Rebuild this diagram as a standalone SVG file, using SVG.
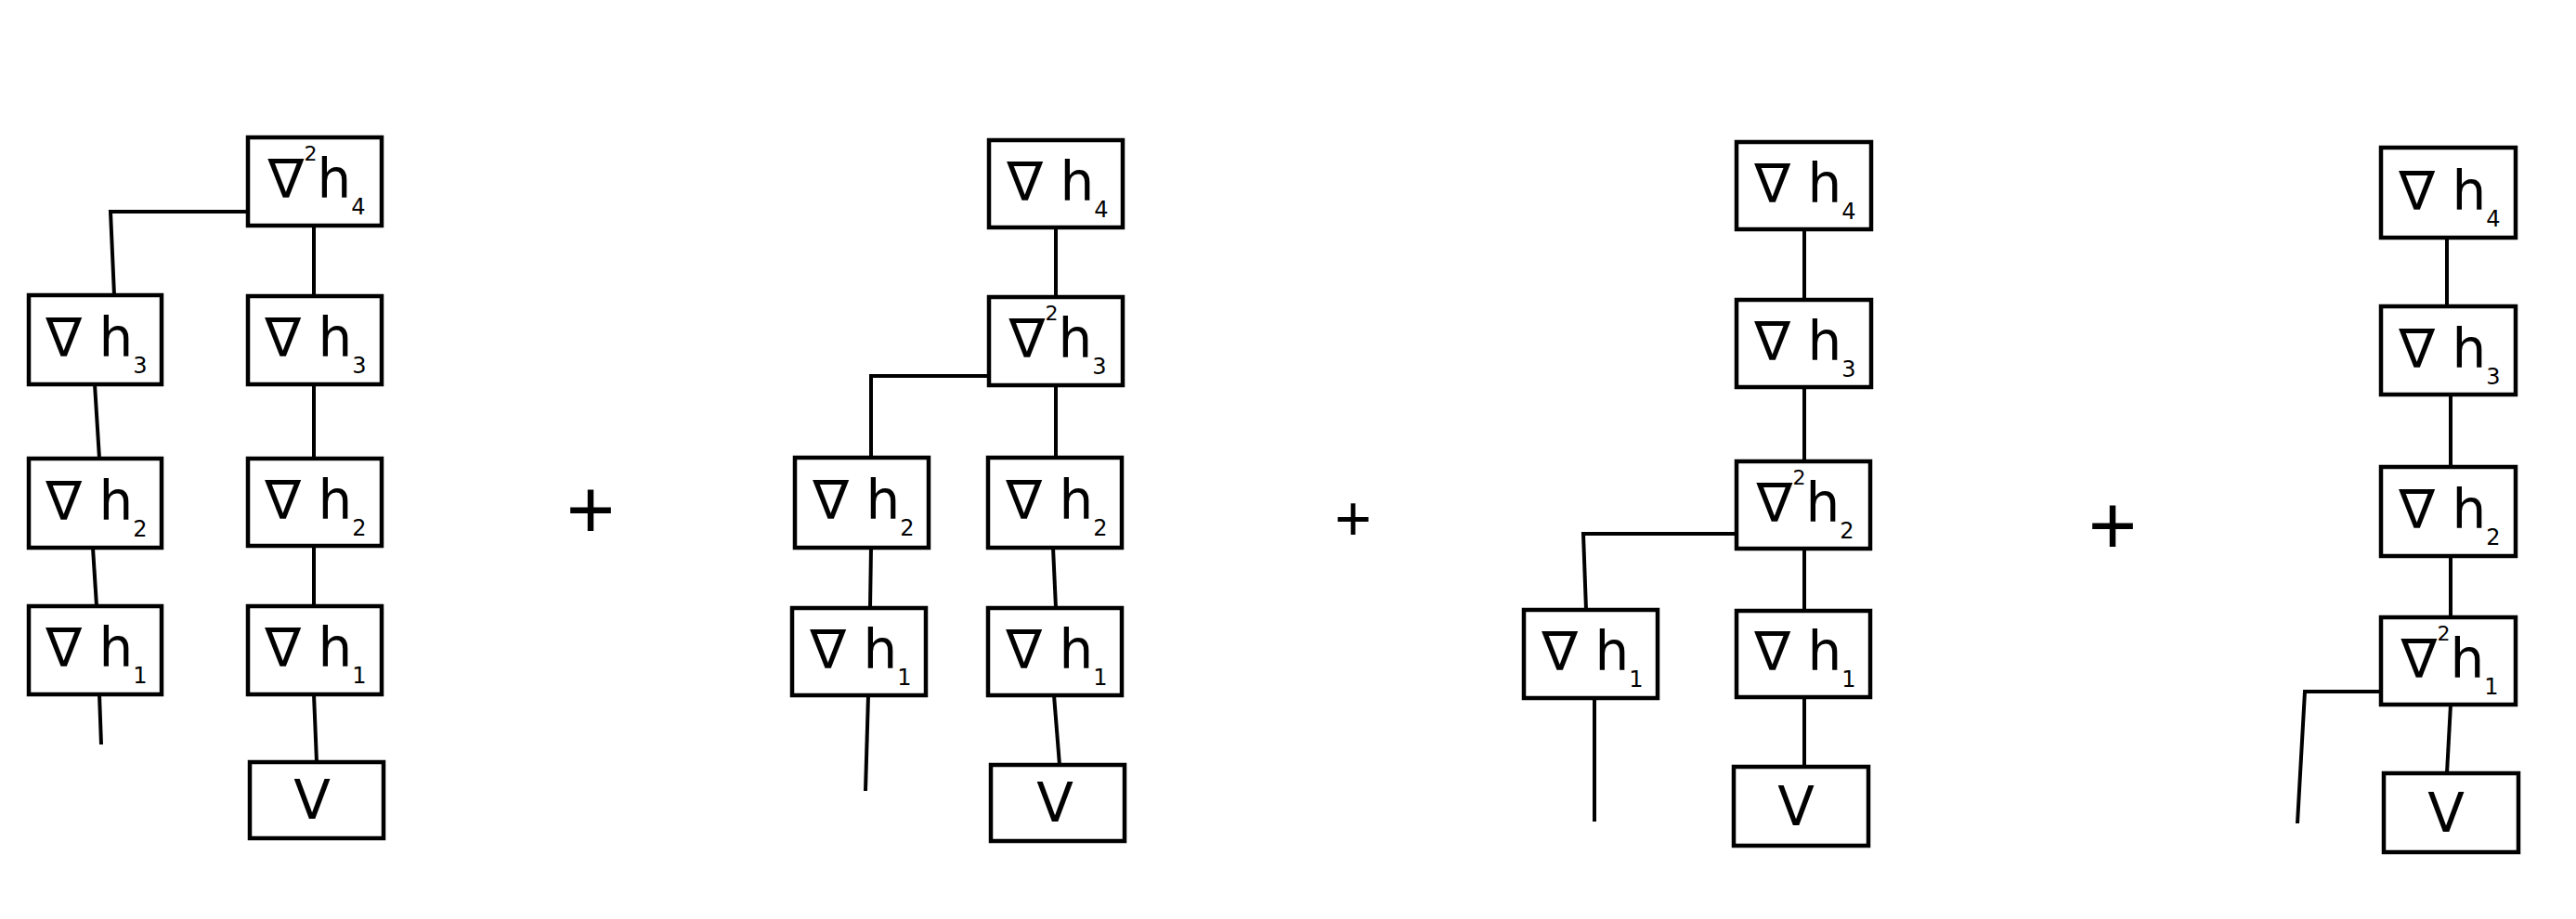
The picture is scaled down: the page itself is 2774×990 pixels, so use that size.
<svg xmlns="http://www.w3.org/2000/svg" width="2774" height="990" viewBox="0 0 2774 990">
<style>
.box{fill:#fff;stroke:#000;stroke-width:4.5}
.ln{fill:none;stroke:#000;stroke-width:4;stroke-linejoin:miter}
.lbl{font-family:"DejaVu Sans",sans-serif;font-size:58px;fill:#000;text-anchor:middle}
.sub{font-size:24px}
.sup{font-size:22px}
.plus{font-family:"Liberation Sans",sans-serif;fill:#000;text-anchor:middle}
</style>
<rect width="2774" height="990" fill="#fff"/>
<g id="connectors">
<path class="ln" d="M267,228 H119 L123,318"/>
<path class="ln" d="M338,243 V319"/>
<path class="ln" d="M102,414 L107,494"/>
<path class="ln" d="M100,590 L104,653"/>
<path class="ln" d="M107,748 L109,802"/>
<path class="ln" d="M338,414 V494"/>
<path class="ln" d="M338,588 V653"/>
<path class="ln" d="M338,748 L341,821"/>
<path class="ln" d="M1137,245 V320"/>
<path class="ln" d="M1065,405 H938 V493"/>
<path class="ln" d="M1137,415 V493"/>
<path class="ln" d="M938,590 L937,655"/>
<path class="ln" d="M935,749 L932,852"/>
<path class="ln" d="M1134,590 L1137,655"/>
<path class="ln" d="M1135,749 L1141,824"/>
<path class="ln" d="M1943,247 V323"/>
<path class="ln" d="M1943,417 V497"/>
<path class="ln" d="M1870,575 H1705 L1708,657"/>
<path class="ln" d="M1943,591 V658"/>
<path class="ln" d="M1717,752 V885"/>
<path class="ln" d="M1943,751 V826"/>
<path class="ln" d="M2635,256 V330"/>
<path class="ln" d="M2639,425 V503"/>
<path class="ln" d="M2639,599 V665"/>
<path class="ln" d="M2564,745 H2482 L2474,887"/>
<path class="ln" d="M2639,759 L2635,833"/>
</g>
<g id="p1_d2h4"><rect class="box" x="267" y="148" width="144" height="95"/><text class="lbl" x="341" y="213">∇<tspan class="sup" dy="-40">2</tspan><tspan dy="40">h</tspan><tspan class="sub" dy="18">4</tspan></text></g>
<g id="p1_l_h3"><rect class="box" x="31" y="318" width="143" height="96"/><text class="lbl" x="104" y="384">∇ h<tspan class="sub" dy="18">3</tspan></text></g>
<g id="p1_l_h2"><rect class="box" x="31" y="494" width="143" height="96"/><text class="lbl" x="104" y="560">∇ h<tspan class="sub" dy="18">2</tspan></text></g>
<g id="p1_l_h1"><rect class="box" x="31" y="653" width="143" height="95"/><text class="lbl" x="104" y="718">∇ h<tspan class="sub" dy="18">1</tspan></text></g>
<g id="p1_r_h3"><rect class="box" x="267" y="319" width="144" height="95"/><text class="lbl" x="340" y="384">∇ h<tspan class="sub" dy="18">3</tspan></text></g>
<g id="p1_r_h2"><rect class="box" x="267" y="494" width="144" height="94"/><text class="lbl" x="340" y="559">∇ h<tspan class="sub" dy="18">2</tspan></text></g>
<g id="p1_r_h1"><rect class="box" x="267" y="653" width="144" height="95"/><text class="lbl" x="340" y="718">∇ h<tspan class="sub" dy="18">1</tspan></text></g>
<g id="p1_v"><rect class="box" x="269" y="821" width="144" height="82"/><text class="lbl" x="336" y="882">V</text></g>
<g id="plus1"><text class="plus" x="636" y="580" font-size="90">+</text></g>
<g id="p2_h4"><rect class="box" x="1065" y="151" width="144" height="94"/><text class="lbl" x="1139" y="216">∇ h<tspan class="sub" dy="18">4</tspan></text></g>
<g id="p2_d2h3"><rect class="box" x="1065" y="320" width="144" height="95"/><text class="lbl" x="1139" y="385">∇<tspan class="sup" dy="-40">2</tspan><tspan dy="40">h</tspan><tspan class="sub" dy="18">3</tspan></text></g>
<g id="p2_l_h2"><rect class="box" x="856" y="493" width="144" height="97"/><text class="lbl" x="930" y="559">∇ h<tspan class="sub" dy="18">2</tspan></text></g>
<g id="p2_l_h1"><rect class="box" x="853" y="655" width="144" height="94"/><text class="lbl" x="927" y="720">∇ h<tspan class="sub" dy="18">1</tspan></text></g>
<g id="p2_r_h2"><rect class="box" x="1064" y="493" width="144" height="97"/><text class="lbl" x="1138" y="559">∇ h<tspan class="sub" dy="18">2</tspan></text></g>
<g id="p2_r_h1"><rect class="box" x="1064" y="655" width="144" height="94"/><text class="lbl" x="1138" y="720">∇ h<tspan class="sub" dy="18">1</tspan></text></g>
<g id="p2_v"><rect class="box" x="1067" y="824" width="144" height="82"/><text class="lbl" x="1136" y="885">V</text></g>
<g id="plus2"><text class="plus" x="1457" y="582" font-size="68">+</text></g>
<g id="p3_h4"><rect class="box" x="1870" y="153" width="145" height="94"/><text class="lbl" x="1944" y="218">∇ h<tspan class="sub" dy="18">4</tspan></text></g>
<g id="p3_h3"><rect class="box" x="1870" y="323" width="145" height="94"/><text class="lbl" x="1944" y="388">∇ h<tspan class="sub" dy="18">3</tspan></text></g>
<g id="p3_d2h2"><rect class="box" x="1870" y="497" width="144" height="94"/><text class="lbl" x="1944" y="562">∇<tspan class="sup" dy="-40">2</tspan><tspan dy="40">h</tspan><tspan class="sub" dy="18">2</tspan></text></g>
<g id="p3_l_h1"><rect class="box" x="1641" y="657" width="144" height="95"/><text class="lbl" x="1715" y="722">∇ h<tspan class="sub" dy="18">1</tspan></text></g>
<g id="p3_r_h1"><rect class="box" x="1870" y="658" width="144" height="93"/><text class="lbl" x="1944" y="722">∇ h<tspan class="sub" dy="18">1</tspan></text></g>
<g id="p3_v"><rect class="box" x="1867" y="826" width="145" height="85"/><text class="lbl" x="1934" y="889">V</text></g>
<g id="plus3"><text class="plus" x="2275" y="597" font-size="90">+</text></g>
<g id="p4_h4"><rect class="box" x="2564" y="159" width="145" height="97"/><text class="lbl" x="2638" y="226">∇ h<tspan class="sub" dy="18">4</tspan></text></g>
<g id="p4_h3"><rect class="box" x="2564" y="330" width="145" height="95"/><text class="lbl" x="2638" y="396">∇ h<tspan class="sub" dy="18">3</tspan></text></g>
<g id="p4_h2"><rect class="box" x="2564" y="503" width="145" height="96"/><text class="lbl" x="2638" y="569">∇ h<tspan class="sub" dy="18">2</tspan></text></g>
<g id="p4_d2h1"><rect class="box" x="2564" y="665" width="145" height="94"/><text class="lbl" x="2638" y="730">∇<tspan class="sup" dy="-40">2</tspan><tspan dy="40">h</tspan><tspan class="sub" dy="18">1</tspan></text></g>
<g id="p4_v"><rect class="box" x="2567" y="833" width="145" height="85"/><text class="lbl" x="2634" y="896">V</text></g>
</svg>
